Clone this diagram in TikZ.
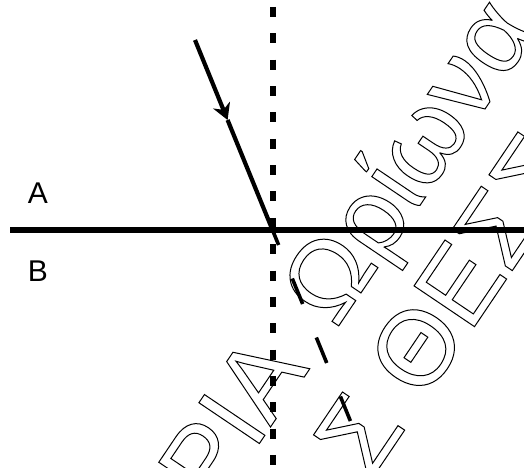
\documentclass[tikz,border=0pt]{standalone}
\usepackage{fontspec}
\setmainfont{Liberation Sans}
\newfontfamily\wmfont{Liberation Sans}
\usetikzlibrary{arrows.meta}
\newcommand\outlinetext[1]{\special{pdf:literal direct 1 Tr 1 w}#1\special{pdf:literal direct 0 Tr}}
\begin{document}
\begin{tikzpicture}[x=1pt,y=1pt,
  wm/.style={anchor=base west, inner sep=0pt, transform shape,
    font=\wmfont\fontsize{106}{106}\selectfont},
  lbl/.style={anchor=base, inner sep=0pt, font=\fontsize{30}{30}\selectfont},
  interface/.style={line width=6pt},
  normalline/.style={line width=6pt, dash pattern=on 10pt off 16.35pt},
  ray/.style={line width=4.2pt},
  rayext/.style={line width=3.6pt, dash pattern=on 27.5pt off 36.2pt, dash phase=11.3pt}]
\useasboundingbox (0,0) rectangle (524,467);
\clip (0,0) rectangle (524,467);
% watermark
\begin{scope}[shift={(330,189)}, rotate=56]
  \node[wm] (w1) at (-257.4,-34) {\outlinetext{ΡΙΑ}};
  \node[wm] (w2) at (-39.5,-34) {\outlinetext{Ωρίωνα}};
  \node[wm] (w3) at (-145.9,-147) {\outlinetext{Σ}};
  \node[wm] (w4) at (-50.9,-147) {\outlinetext{ΘΕΣΣ}};
\end{scope}
% coordinates
\coordinate (L) at (10,237);
\coordinate (R) at (524,237);
\coordinate (NT) at (273,460);
\coordinate (NB) at (273,-5);
\coordinate (S) at (195,427);
\coordinate (M) at (227.6,347);
\coordinate (P) at (272.5,237);
\coordinate (E) at (350.4,46);
% labels
\node[lbl] (A) at (38,264) {A};
\node[lbl] (B) at (38,186) {B};
% lines
\draw[normalline] (NT) -- (NB);
\draw[interface] (L) -- (R);
\draw[ray, -{Stealth[length=16pt, width=18pt, inset=5pt]}] (S) -- (M);
\draw[ray] (M) -- (P);
\draw[rayext] (P) -- (E);
\end{tikzpicture}
\end{document}
